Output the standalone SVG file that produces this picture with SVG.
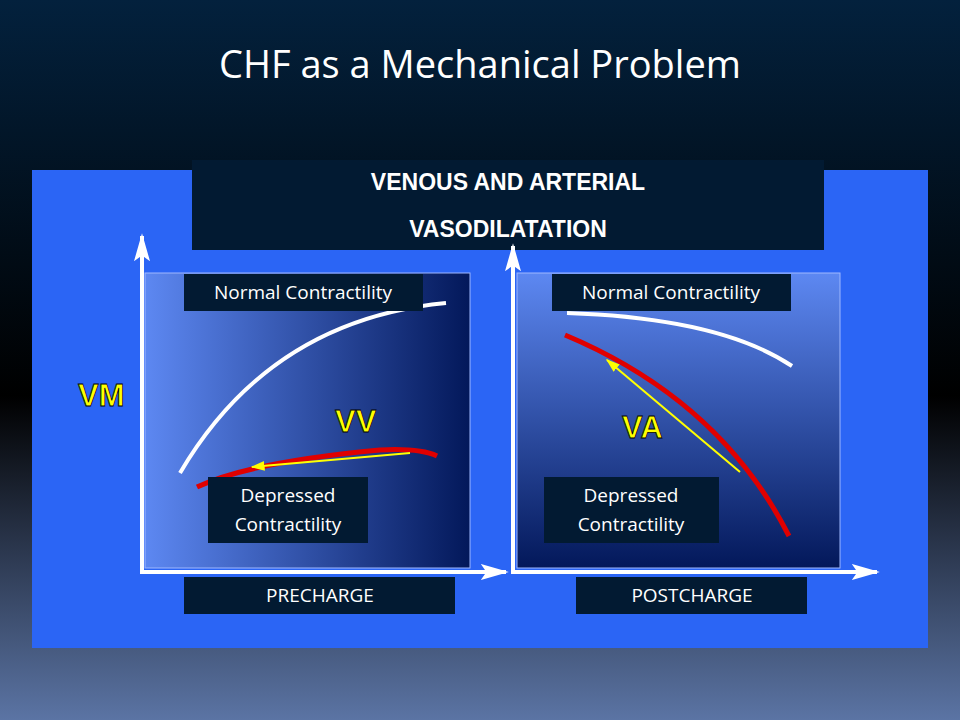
<svg xmlns="http://www.w3.org/2000/svg" width="960" height="720" viewBox="0 0 960 720">
<defs>
<linearGradient id="bg" x1="0" y1="0" x2="0" y2="1"><stop offset="0" stop-color="#03213d"/><stop offset="0.55" stop-color="#000000"/><stop offset="1" stop-color="#5b74a4"/></linearGradient>
<linearGradient id="pl" x1="0" y1="0" x2="1" y2="0"><stop offset="0" stop-color="#5d88f2"/><stop offset="1" stop-color="#03185a"/></linearGradient>
<linearGradient id="pr" x1="0" y1="0" x2="0" y2="1"><stop offset="0" stop-color="#5d88f2"/><stop offset="1" stop-color="#03185a"/></linearGradient>
<marker id="ah" viewBox="0 0 10 10" refX="9" refY="5" markerWidth="28" markerHeight="16" orient="auto" markerUnits="userSpaceOnUse" preserveAspectRatio="none"><path d="M0,0 L10,5 L0,10 L2,5 z" fill="#fff"/></marker>
<marker id="ya" viewBox="0 0 10 10" refX="9" refY="5" markerWidth="14" markerHeight="12" orient="auto" markerUnits="userSpaceOnUse" preserveAspectRatio="none"><path d="M0,1 L10,5 L0,9 z" fill="#ffff00"/></marker>
<style>
.lb{fill:#021a32}
.t{font-family:"Open Sans","Liberation Sans",sans-serif;fill:#fff;font-size:19px;text-anchor:middle}
.h{font-family:"Liberation Sans",sans-serif;font-weight:bold;fill:#fff;font-size:23px;text-anchor:middle}
.y{font-family:"Liberation Sans",sans-serif;font-weight:bold;fill:#ffff00;font-size:31px;stroke:#000;stroke-width:0.8}
.ax{stroke:#fff;stroke-width:4;fill:none}
</style>
</defs>
<rect width="960" height="720" fill="url(#bg)"/>
<text x="480" y="78" font-family="'Open Sans','Liberation Sans',sans-serif" font-size="38" fill="#fff" text-anchor="middle">CHF as a Mechanical Problem</text>
<rect x="32" y="170" width="896" height="478" fill="#2b65f5"/>
<g id="header"><rect x="192" y="160" width="632" height="90" class="lb"/><text x="508" y="190" class="h">VENOUS AND ARTERIAL</text><text x="508" y="237" class="h">VASODILATATION</text></g>
<g id="left-plot">
<rect x="145" y="273" width="325" height="295" fill="url(#pl)" stroke="#9fb8ff" stroke-width="1"/>
<path d="M180,473 Q270,320 446,303" stroke="#fff" stroke-width="4" fill="none"/>
<path d="M197,487 Q250,462 380,450 Q420,448 437,456" stroke="#e00000" stroke-width="5" fill="none"/>
<line x1="410" y1="453" x2="252" y2="467" stroke="#ffff00" stroke-width="2" marker-end="url(#ya)"/>
<text x="335" y="432" class="y">VV</text>
</g>
<g id="right-plot">
<rect x="517" y="273" width="323" height="295" fill="url(#pr)" stroke="#9fb8ff" stroke-width="1"/>
<path d="M567,313 Q720,318 792,366" stroke="#fff" stroke-width="4" fill="none"/>
<path d="M565,335 Q720,400 789,536" stroke="#e00000" stroke-width="5" fill="none"/>
<line x1="740" y1="472" x2="607" y2="360" stroke="#ffff00" stroke-width="2" marker-end="url(#ya)"/>
<text x="622" y="438" class="y">VA</text>
</g>
<g id="connectors">
<line x1="142" y1="574" x2="142" y2="236" class="ax" marker-end="url(#ah)"/>
<line x1="140" y1="572" x2="506" y2="572" class="ax" marker-end="url(#ah)"/>
<line x1="513" y1="574" x2="513" y2="246" class="ax" marker-end="url(#ah)"/>
<line x1="511" y1="572" x2="877" y2="572" class="ax" marker-end="url(#ah)"/>
</g>
<text x="78" y="406" class="y">VM</text>
<g id="n1"><rect x="184" y="274" width="239" height="37" class="lb"/><text x="303" y="299" class="t">Normal Contractility</text></g>
<g id="n2"><rect x="552" y="274" width="239" height="37" class="lb"/><text x="671" y="299" class="t">Normal Contractility</text></g>
<g id="n3"><rect x="208" y="477" width="160" height="66" class="lb"/><text x="288" y="502" class="t">Depressed</text><text x="288" y="531" class="t">Contractility</text></g>
<g id="n4"><rect x="544" y="477" width="175" height="66" class="lb"/><text x="631" y="502" class="t">Depressed</text><text x="631" y="531" class="t">Contractility</text></g>
<g id="n5"><rect x="184" y="577" width="271" height="37" class="lb"/><text x="320" y="602" class="t">PRECHARGE</text></g>
<g id="n6"><rect x="576" y="577" width="231" height="37" class="lb"/><text x="692" y="602" class="t">POSTCHARGE</text></g>
</svg>
